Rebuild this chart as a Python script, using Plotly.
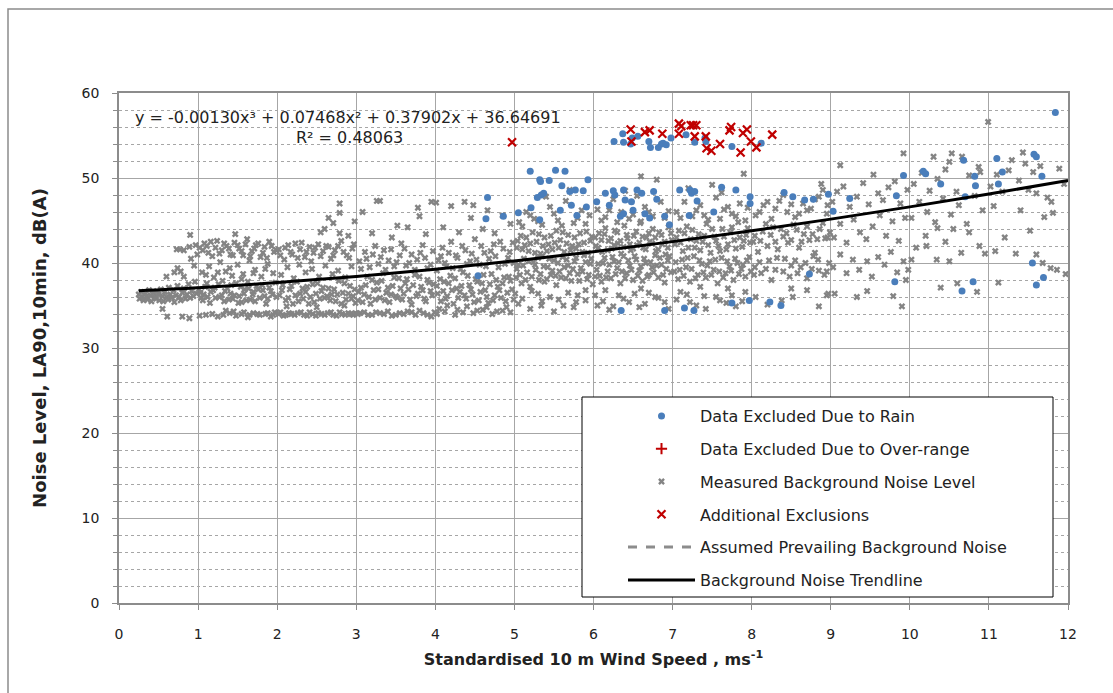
import plotly.graph_objects as go

# ---------------- data ----------------
gray_bin0 = [(0.25,36.3),(0.26,35.8),(0.28,36.6),(0.3,36.0),(0.31,35.6),(0.33,36.4),(0.35,36.1),(0.36,35.7),(0.38,36.8),(0.4,36.2),
             (0.41,35.5),(0.43,36.5),(0.45,36.0),(0.47,35.8),(0.48,36.7),(0.5,36.3),(0.51,35.6),(0.53,36.9),(0.55,36.1),(0.56,35.5),
             (0.58,36.6),(0.6,36.0),(0.62,35.7),(0.63,37.1),(0.65,36.3),(0.67,35.9),(0.69,36.8),(0.7,35.4),(0.72,36.2),(0.74,37.3),
             (0.76,36.0),(0.78,35.6),(0.8,36.5),(0.82,37.0),(0.84,35.8),(0.86,36.3),(0.88,37.5),(0.9,35.9),(0.92,36.7),(0.94,36.1),
             (0.96,37.8),(0.98,36.4),(0.55,34.6),(0.61,33.7),(0.8,33.7),(0.89,33.5),(0.6,38.4),(0.7,38.9),(0.74,39.4),(0.78,39.0),
             (0.82,38.4),(0.73,41.6),(0.77,41.6),(0.82,41.5),(0.89,41.9),(0.9,43.3),(0.91,40.5),(0.95,39.7),(0.97,42.1),(0.99,41.0)]
gray_bin1 = [(1.02,33.8),(1.1,33.9),(1.18,34.0),(1.25,33.7),(1.32,33.9),(1.4,34.1),(1.48,33.8),(1.55,34.0),(1.63,33.6),(1.7,34.1),
             (1.78,33.9),(1.85,34.0),(1.92,33.7),(1.97,34.2),(1.03,36.5),(1.06,35.6),(1.09,37.2),(1.12,36.0),(1.15,35.3),(1.19,36.8),
             (1.22,35.9),(1.26,37.5),(1.3,36.2),(1.33,35.5),(1.37,37.0),(1.41,36.4),(1.44,35.8),(1.48,37.6),(1.52,36.1),(1.55,35.4),
             (1.59,36.9),(1.63,37.8),(1.66,35.7),(1.7,36.6),(1.74,37.3),(1.78,35.9),(1.82,36.8),(1.86,35.2),(1.9,37.1),(1.94,36.3),
             (1.98,37.7),(1.05,38.9),(1.14,39.6),(1.2,38.3),(1.28,40.1),(1.35,39.0),(1.43,38.5),(1.5,39.8),(1.57,38.7),(1.65,40.3),
             (1.72,39.2),(1.8,38.4),(1.88,39.9),(1.95,38.8),(1.02,41.8),(1.08,42.3),(1.13,41.2),(1.18,40.8),(1.24,42.6),(1.3,41.5),
             (1.36,42.0),(1.41,41.0),(1.46,42.4),(1.52,41.7),(1.57,40.9),(1.62,42.8),(1.68,41.4),(1.73,42.1),(1.79,40.7),(1.84,41.9),
             (1.9,42.5),(1.96,41.3),(1.47,43.4),
             (1.01,36.9),(1.04,35.9),(1.07,36.3),(1.11,37.6),(1.16,36.6),(1.21,37.1),(1.27,36.0),(1.31,37.9),(1.34,36.7),(1.39,35.7),
             (1.42,37.4),(1.46,36.2),(1.51,35.3),(1.54,37.2),(1.58,36.4),(1.61,35.6),(1.64,37.0),(1.69,36.3),(1.72,35.5),(1.76,36.9),
             (1.81,37.4),(1.84,36.1),(1.88,35.8),(1.92,36.7),(1.99,36.0),(1.06,41.5),(1.11,42.0),(1.16,42.5),(1.22,41.8),(1.27,41.1),
             (1.33,42.3),(1.39,41.7),(1.44,40.9),(1.5,42.1),(1.55,41.4),(1.6,42.2),(1.66,40.8),(1.71,41.7),(1.76,42.3),(1.82,41.2),
             (1.87,40.6),(1.93,42.0),(1.99,41.5),(1.58,34.2),(1.65,33.9),(1.75,34.0),(1.88,34.1),(1.95,33.9),(1.45,34.3),(1.35,34.4),
             (1.1,38.6),(1.25,38.9),(1.4,39.4),(1.55,38.1),(1.7,38.8),(1.85,39.3)]
gray_bin2 = [(2.02,34.0),(2.08,33.8),(2.15,34.1),(2.22,33.9),(2.3,34.2),(2.38,33.8),(2.45,34.0),(2.52,34.1),(2.6,33.9),(2.68,34.2),
             (2.75,33.8),(2.82,34.0),(2.9,34.1),(2.96,33.9),(2.12,34.9),(2.5,34.8),(2.85,35.0),(2.03,36.2),(2.07,37.4),(2.11,35.6),
             (2.16,36.9),(2.2,35.2),(2.25,37.8),(2.29,36.4),(2.33,35.8),(2.38,37.2),(2.42,36.0),(2.47,35.4),(2.51,37.6),(2.56,36.7),
             (2.6,35.9),(2.65,37.0),(2.69,36.3),(2.74,35.5),(2.78,37.9),(2.83,36.5),(2.87,35.7),(2.92,37.3),(2.96,36.1),(2.99,35.3),
             (2.05,38.6),(2.13,39.5),(2.21,38.2),(2.28,39.8),(2.36,38.9),(2.44,39.3),(2.53,38.4),(2.61,39.7),(2.7,38.7),(2.77,39.1),
             (2.86,38.3),(2.94,39.6),(2.02,41.6),(2.09,40.4),(2.14,42.1),(2.19,41.0),(2.26,40.6),(2.31,42.4),(2.37,41.3),(2.43,40.2),
             (2.48,41.8),(2.55,40.8),(2.62,42.0),(2.68,40.5),(2.73,41.5),(2.81,42.6),(2.88,40.9),(2.95,41.7),(2.65,45.3),(2.71,44.7),
             (2.79,45.9),(2.79,47.0),(2.79,43.5),(2.98,44.9),(2.6,44.0),(2.9,43.2),(2.55,43.6),
             (2.04,34.2),(2.11,33.9),(2.18,34.0),(2.26,34.1),(2.34,33.9),(2.41,34.2),(2.49,33.8),(2.56,34.0),(2.64,34.1),(2.71,33.9),
             (2.79,34.2),(2.86,33.9),(2.93,34.0),(2.99,34.1),(2.06,36.8),(2.14,35.9),(2.18,37.3),(2.23,36.2),(2.27,35.5),(2.32,37.0),
             (2.36,36.6),(2.4,35.2),(2.45,37.5),(2.49,36.4),(2.54,35.8),(2.58,37.1),(2.63,36.1),(2.67,35.6),(2.72,36.9),(2.76,36.3),
             (2.81,35.2),(2.85,37.6),(2.9,36.4),(2.94,35.8),(2.98,36.9),(2.04,40.9),(2.1,41.8),(2.17,41.3),(2.23,42.3),(2.29,41.6),
             (2.35,40.7),(2.41,41.9),(2.46,41.2),(2.52,42.2),(2.58,41.4),(2.65,41.9),(2.71,40.9),(2.77,42.0),(2.84,41.3),(2.91,40.6),
             (2.97,42.2)]
gray_bin3 = [(3.05,34.1),(3.15,33.9),(3.25,34.2),(3.35,34.0),(3.45,33.8),(3.55,34.1),(3.65,34.3),(3.75,33.9),(3.85,34.1),(3.95,33.7),
             (3.02,35.6),(3.06,37.1),(3.1,36.3),(3.14,38.4),(3.18,35.2),(3.22,36.8),(3.26,37.7),(3.3,35.9),(3.34,38.8),(3.38,36.5),
             (3.42,35.4),(3.46,37.3),(3.5,36.1),(3.54,38.2),(3.58,35.7),(3.62,37.6),(3.66,36.9),(3.7,35.1),(3.74,38.6),(3.78,36.4),
             (3.82,37.2),(3.86,35.8),(3.9,38.0),(3.94,36.7),(3.98,37.5),(3.04,40.2),(3.11,41.3),(3.17,39.5),(3.24,42.0),(3.31,40.7),
             (3.37,39.2),(3.44,41.6),(3.51,40.1),(3.57,42.3),(3.63,39.7),(3.7,41.0),(3.77,40.4),(3.84,42.1),(3.9,39.4),(3.97,41.4),
             (3.08,46.0),(3.26,47.3),(3.3,47.3),(3.52,44.4),(3.78,46.5),(3.8,45.5),(3.95,47.2),(3.2,43.5),(3.45,43.0),(3.65,44.2),
             (3.88,43.4),
             (3.02,34.0),(3.1,34.2),(3.2,33.9),(3.3,34.1),(3.4,34.3),(3.5,33.9),(3.6,34.0),(3.7,34.2),(3.8,34.4),(3.9,33.9),(3.99,34.2),
             (3.03,36.6),(3.08,35.4),(3.12,37.4),(3.16,36.0),(3.2,38.0),(3.24,35.7),(3.28,36.9),(3.32,37.9),(3.36,35.6),(3.4,37.1),
             (3.44,36.3),(3.48,38.3),(3.52,35.9),(3.56,37.0),(3.6,36.4),(3.64,38.1),(3.68,35.7),(3.72,37.4),(3.76,36.1),(3.8,38.4),
             (3.84,36.8),(3.88,35.5),(3.92,37.7),(3.96,36.2),(3.06,39.3),(3.13,40.5),(3.21,41.0),(3.28,39.9),(3.35,41.5),(3.41,40.3),
             (3.48,39.6),(3.55,40.9),(3.61,41.7),(3.67,40.0),(3.74,39.2),(3.81,41.2),(3.87,40.6),(3.94,39.8)]
gray_bin4 = [(4.02,34.0),(4.12,34.3),(4.25,33.9),(4.35,34.2),(4.48,34.1),(4.6,34.5),(4.72,34.0),(4.85,34.4),(4.95,34.2),
             (4.03,36.4),(4.07,35.5),(4.11,37.8),(4.15,36.1),(4.19,38.5),(4.23,35.2),(4.27,37.0),(4.31,36.6),(4.35,38.9),(4.39,35.8),
             (4.43,37.4),(4.47,36.3),(4.51,38.1),(4.55,35.6),(4.59,37.6),(4.63,36.8),(4.67,35.3),(4.71,38.7),(4.75,36.2),(4.79,37.2),
             (4.83,35.9),(4.87,38.3),(4.91,36.5),(4.95,37.9),(4.99,35.7),(4.04,40.3),(4.09,41.8),(4.14,39.6),(4.2,42.5),(4.26,40.9),
             (4.32,39.3),(4.38,41.5),(4.44,40.2),(4.5,42.8),(4.56,39.8),(4.62,41.2),(4.68,40.5),(4.74,42.2),(4.8,39.5),(4.86,41.7),
             (4.92,40.6),(4.98,42.4),(4.01,47.1),(4.2,46.7),(4.37,47.2),(4.48,46.8),(4.1,44.2),(4.3,43.6),(4.45,45.3),(4.6,44.0),
             (4.75,43.5),(4.85,45.6),(4.95,44.6),(4.66,46.2),
             (4.05,34.6),(4.15,35.0),(4.28,34.5),(4.4,34.9),(4.53,34.4),(4.65,34.8),(4.78,34.3),(4.9,34.8),
             (4.02,37.3),(4.06,38.1),(4.1,36.7),(4.13,35.8),(4.17,37.6),(4.21,36.8),(4.25,38.2),(4.29,35.9),(4.33,37.3),(4.37,36.2),
             (4.41,38.5),(4.45,36.9),(4.49,35.4),(4.53,37.8),(4.57,36.6),(4.61,38.6),(4.65,36.0),(4.69,37.5),(4.73,35.6),(4.77,38.0),
             (4.81,36.8),(4.85,37.6),(4.89,35.5),(4.93,38.4),(4.97,36.9),(4.02,39.1),(4.07,40.8),(4.12,40.0),(4.17,41.2),(4.22,39.4),
             (4.28,40.6),(4.34,42.0),(4.4,39.9),(4.46,41.1),(4.52,40.4),(4.58,42.0),(4.64,39.6),(4.7,41.4),(4.76,40.8),(4.82,42.5),
             (4.88,39.9),(4.94,41.3),(4.99,40.0)]
gray_bin5 = [(5.05,35.2),(5.2,34.6),(5.35,35.5),(5.5,34.3),(5.62,35.0),(5.75,34.8),(5.9,35.6),(5.3,36.4),(5.8,36.2),
             (5.02,38.3),(5.05,39.8),(5.09,37.6),(5.12,40.5),(5.16,38.9),(5.2,37.2),(5.24,40.1),(5.27,39.2),(5.31,38.0),(5.35,40.8),
             (5.38,37.8),(5.42,39.5),(5.46,38.6),(5.5,40.3),(5.53,37.4),(5.57,39.0),(5.61,40.7),(5.65,38.2),(5.68,39.7),(5.72,37.9),
             (5.76,40.2),(5.8,38.7),(5.84,39.4),(5.88,40.9),(5.92,38.1),(5.96,39.9),(5.99,37.5),(5.03,41.8),(5.08,43.2),(5.13,42.1),
             (5.18,41.4),(5.23,43.6),(5.28,42.5),(5.33,41.1),(5.38,43.0),(5.43,42.2),(5.48,41.6),(5.53,43.8),(5.58,42.7),(5.63,41.3),
             (5.68,43.3),(5.73,42.0),(5.78,41.7),(5.83,43.5),(5.88,42.4),(5.93,41.2),(5.98,43.1),(5.06,44.8),(5.15,46.0),(5.25,45.2),
             (5.35,44.5),(5.45,46.6),(5.55,45.0),(5.65,47.3),(5.75,44.7),(5.85,46.2),(5.95,45.6),(5.4,47.8),(5.7,48.6),
             (5.01,36.4),(5.1,35.8),(5.22,36.7),(5.34,35.0),(5.45,36.0),(5.56,35.7),(5.68,36.5),(5.78,35.4),(5.9,36.8),
             (5.03,39.3),(5.07,38.6),(5.11,39.7),(5.14,38.0),(5.18,40.2),(5.22,38.4),(5.26,39.8),(5.3,40.6),(5.33,38.7),(5.37,39.6),
             (5.41,38.1),(5.44,40.5),(5.48,39.1),(5.52,38.5),(5.55,40.0),(5.59,38.3),(5.63,39.5),(5.66,40.4),(5.7,38.8),(5.74,39.3),
             (5.78,40.6),(5.82,37.9),(5.86,39.0),(5.9,40.1),(5.94,38.6),(5.97,40.5),(5.04,42.6),(5.1,41.6),(5.15,43.0),(5.2,42.3),
             (5.26,41.2),(5.31,43.4),(5.36,42.0),(5.41,41.4),(5.46,43.2),(5.51,42.4),(5.56,41.8),(5.61,43.6),(5.66,42.3),(5.71,41.5),
             (5.76,43.0),(5.81,42.2),(5.86,41.3),(5.91,43.7),(5.96,42.6),(5.1,44.3),(5.2,45.6),(5.3,44.9),(5.5,45.8),(5.6,44.4),
             (5.8,45.3),(5.9,44.6)]
gray_bin6 = [(6.05,35.0),(6.2,34.5),(6.32,36.2),(6.45,35.4),(6.58,34.8),(6.7,36.5),(6.82,35.9),(6.95,34.6),(6.15,36.8),(6.6,37.0),
             (6.02,38.4),(6.06,39.9),(6.1,37.8),(6.14,40.6),(6.18,39.0),(6.22,38.2),(6.26,40.2),(6.3,39.4),(6.34,37.6),(6.38,40.8),
             (6.42,38.8),(6.46,39.7),(6.5,38.0),(6.54,40.4),(6.58,39.1),(6.62,37.9),(6.66,40.0),(6.7,38.6),(6.74,39.5),(6.78,40.9),
             (6.82,38.3),(6.86,39.8),(6.9,37.7),(6.94,40.3),(6.98,38.9),(6.03,42.0),(6.07,43.5),(6.11,41.3),(6.15,44.1),(6.19,42.6),
             (6.23,41.7),(6.27,43.8),(6.31,42.3),(6.35,41.1),(6.39,44.4),(6.43,42.9),(6.47,41.5),(6.51,43.2),(6.55,42.1),(6.59,44.7),
             (6.63,41.8),(6.67,43.0),(6.71,42.5),(6.75,44.0),(6.79,41.4),(6.83,43.6),(6.87,42.2),(6.91,41.0),(6.95,44.2),(6.99,42.7),
             (6.05,46.3),(6.15,45.4),(6.25,47.5),(6.35,46.0),(6.45,45.2),(6.55,47.9),(6.65,46.6),(6.75,45.5),(6.85,47.2),(6.95,46.1),
             (6.4,48.5),(6.8,49.8),(6.6,50.2),
             (6.02,36.2),(6.12,35.5),(6.25,34.9),(6.38,35.8),(6.52,36.4),(6.65,35.2),(6.78,36.0),(6.9,35.4),
             (6.04,39.2),(6.08,38.5),(6.12,40.0),(6.16,38.3),(6.2,39.8),(6.24,40.7),(6.28,38.7),(6.32,40.1),(6.36,39.0),(6.4,38.2),
             (6.44,40.3),(6.48,39.2),(6.52,40.8),(6.56,38.5),(6.6,39.6),(6.64,40.5),(6.68,38.4),(6.72,40.1),(6.76,38.9),(6.8,39.7),
             (6.84,40.6),(6.88,38.6),(6.92,39.3),(6.96,40.8),(6.02,43.0),(6.06,41.8),(6.1,42.7),(6.14,43.4),(6.18,41.5),(6.22,42.9),
             (6.26,42.1),(6.3,43.6),(6.34,42.6),(6.38,41.9),(6.42,43.3),(6.46,42.2),(6.5,41.7),(6.54,43.7),(6.58,42.4),(6.62,43.1),
             (6.66,41.6),(6.7,43.5),(6.74,42.3),(6.78,43.0),(6.82,41.6),(6.86,43.3),(6.9,42.5),(6.94,41.8),(6.98,43.5),
             (6.1,45.0),(6.2,46.2),(6.3,44.8),(6.5,45.7),(6.6,44.9),(6.7,46.0),(6.9,45.3)]
gray_bin7 = [(7.05,35.7),(7.18,36.3),(7.3,35.0),(7.42,34.6),(7.55,36.0),(7.68,35.3),(7.8,34.9),(7.92,36.6),(7.35,37.2),(7.7,37.0),
             (7.02,39.0),(7.07,38.1),(7.12,40.4),(7.17,39.5),(7.22,37.8),(7.27,40.8),(7.32,38.6),(7.37,39.9),(7.42,38.3),(7.47,40.2),
             (7.52,39.2),(7.57,37.6),(7.62,40.6),(7.67,38.8),(7.72,39.6),(7.77,38.0),(7.82,40.0),(7.87,39.3),(7.92,38.4),(7.97,40.7),
             (7.03,42.2),(7.08,43.8),(7.13,41.4),(7.18,44.3),(7.23,42.8),(7.28,41.8),(7.33,43.4),(7.38,42.5),(7.43,44.6),(7.48,41.2),
             (7.53,43.1),(7.58,42.0),(7.63,44.0),(7.68,41.6),(7.73,43.6),(7.78,42.7),(7.83,44.8),(7.88,41.9),(7.93,43.3),(7.98,42.4),
             (7.05,46.0),(7.15,47.2),(7.25,45.5),(7.35,46.8),(7.45,45.1),(7.55,47.7),(7.65,46.3),(7.75,45.8),(7.85,47.0),(7.95,46.5),
             (7.2,48.8),(7.5,49.2),(7.9,50.5),(7.62,48.3),
             (7.1,36.6),(7.22,35.4),(7.4,36.1),(7.6,35.6),(7.75,36.2),(7.88,35.5),
             (7.04,40.1),(7.09,39.2),(7.14,38.5),(7.19,40.6),(7.24,39.3),(7.29,38.2),(7.34,40.3),(7.39,38.9),(7.44,39.7),(7.49,38.6),
             (7.54,40.4),(7.59,39.0),(7.64,38.3),(7.69,40.2),(7.74,39.1),(7.79,40.5),(7.84,38.7),(7.89,39.8),(7.94,40.3),(7.99,39.0),
             (7.05,43.0),(7.1,42.4),(7.15,43.5),(7.2,41.8),(7.25,43.9),(7.3,42.6),(7.35,41.5),(7.4,43.2),(7.45,42.1),(7.5,44.0),
             (7.55,42.6),(7.6,41.4),(7.65,43.1),(7.7,42.2),(7.75,44.2),(7.8,41.7),(7.85,43.0),(7.9,42.6),(7.95,44.1),
             (7.1,45.3),(7.3,46.2),(7.4,45.6),(7.6,45.2),(7.7,46.6),(7.8,45.5),(7.92,45.0)]
gray_bin8 = [(8.05,36.0),(8.2,35.1),(8.38,35.6),(8.5,37.0),(8.7,36.8),(8.85,34.9),(8.95,36.2),(8.52,36.0),(8.97,36.4),
             (8.03,38.6),(8.1,40.1),(8.18,39.3),(8.25,38.0),(8.32,40.6),(8.4,39.0),(8.48,38.4),(8.55,40.3),(8.62,39.5),(8.7,38.2),
             (8.78,40.8),(8.85,39.1),(8.92,38.6),(8.98,40.0),(8.02,42.5),(8.08,41.3),(8.14,43.7),(8.2,42.0),(8.27,44.2),(8.33,41.6),
             (8.4,43.1),(8.46,42.4),(8.53,44.5),(8.6,41.8),(8.66,43.4),(8.73,42.7),(8.8,41.2),(8.86,44.0),(8.93,42.9),(8.99,43.6),
             (8.05,45.6),(8.15,46.8),(8.25,45.2),(8.35,47.3),(8.45,46.0),(8.55,45.4),(8.65,47.0),(8.75,46.4),(8.85,47.8),(8.95,45.8),
             (8.4,48.0),(8.9,48.6),(8.88,49.3),
             (8.04,39.5),(8.12,38.8),(8.22,40.3),(8.3,39.2),(8.42,40.5),(8.5,39.7),(8.58,38.8),(8.68,40.0),(8.76,39.3),(8.84,40.4),
             (8.95,39.0),(8.04,43.2),(8.11,42.6),(8.18,44.6),(8.24,43.3),(8.3,42.5),(8.37,44.0),(8.44,43.5),(8.5,42.7),(8.57,43.9),
             (8.63,42.5),(8.7,44.3),(8.77,43.4),(8.83,42.8),(8.9,44.7),(8.96,43.0),(8.1,46.0),(8.2,47.2),(8.3,46.4),(8.5,46.9),
             (8.6,45.8),(8.7,46.2),(8.8,47.5),(8.96,46.8)]
gray_bin9 = [(9.05,36.4),(9.33,36.0),(9.46,36.7),(9.79,36.1),(9.95,38.0),(9.9,34.9),(9.98,39.2),
             (9.03,39.5),(9.12,41.0),(9.2,38.8),(9.28,40.4),(9.36,39.2),(9.46,40.2),(9.52,38.4),(9.6,40.7),(9.68,39.8),(9.76,41.3),
             (9.84,38.9),(9.92,40.2),(9.04,43.0),(9.12,44.6),(9.2,42.4),(9.29,45.1),(9.37,43.6),(9.45,42.8),(9.53,44.3),(9.62,45.6),
             (9.7,43.2),(9.78,44.9),(9.86,42.6),(9.94,45.3),(9.02,47.2),(9.08,48.4),(9.16,49.0),(9.24,46.6),(9.33,47.8),(9.41,49.4),
             (9.48,46.9),(9.54,50.4),(9.6,48.2),(9.66,47.4),(9.73,48.9),(9.81,49.6),(9.88,47.0),(9.92,52.9),(9.12,51.5),(9.97,48.6)]
gray_bin10 = [(10.02,40.4),(10.21,42.0),(10.34,40.4),(10.39,37.1),(10.6,37.6),(10.85,36.6),(10.95,41.1),(10.5,40.2),
              (10.08,41.8),(10.2,43.2),(10.45,42.5),(10.55,44.0),(10.65,41.2),(10.75,43.6),(10.88,42.0),(10.35,44.1),
              (10.02,45.3),(10.12,47.2),(10.22,46.0),(10.32,44.8),(10.42,47.6),(10.52,45.7),(10.62,46.8),(10.72,44.6),(10.82,47.9),
              (10.92,46.2),(10.05,49.3),(10.15,50.6),(10.25,48.5),(10.35,49.9),(10.45,51.0),(10.59,48.4),(10.5,51.9),(10.53,52.9),
              (10.66,52.5),(10.75,50.3),(10.87,51.3),(10.89,50.7),(10.3,52.5),(10.99,56.6)]
gray_bin11 = [(11.02,49.0),(11.06,46.7),(11.1,50.4),(11.12,37.7),(11.17,48.4),(11.2,43.0),(11.25,50.9),(11.29,52.1),(11.34,41.1),
              (11.38,49.7),(11.43,53.0),(11.46,51.7),(11.5,48.6),(11.56,50.7),(11.6,41.0),(11.6,48.2),(11.65,51.4),(11.68,40.0),
              (11.7,45.4),(11.74,47.7),(11.78,39.4),(11.79,47.2),(11.81,45.9),(11.86,39.2),(11.89,51.1),(11.95,49.3),(11.97,38.7),
              (11.4,46.2),(11.52,43.8),(11.08,41.4)]

rain_pts = [(6.26,54.3),(6.37,55.2),(6.38,54.2),(6.47,54.0),(6.49,54.7),(6.56,54.9),(6.70,54.3),(6.72,53.6),(6.82,53.6),(6.86,54.0),
            (6.88,54.1),(6.92,53.9),(6.98,54.7),(7.17,55.1),(7.28,54.2),(7.41,54.7),(7.42,54.3),(7.75,53.7),(8.12,54.1),
            (5.20,50.8),(5.32,49.8),(5.33,49.6),(5.44,49.7),(5.52,50.9),(5.64,50.8),(5.60,49.1),(5.29,47.7),(5.34,48.0),(5.37,48.2),
            (5.70,48.4),(5.77,48.6),(5.87,48.5),(5.93,49.8),(4.66,47.7),(4.64,45.2),(4.86,45.5),(5.05,45.9),(5.21,46.5),(5.32,45.1),
            (5.58,46.2),(5.72,46.8),(5.79,45.6),(5.91,46.6),(6.04,47.2),(6.15,48.2),(6.20,46.8),(6.25,48.5),(6.27,48.0),(6.38,48.6),
            (6.40,47.4),(6.48,47.2),(6.50,46.2),(6.55,48.6),(6.61,48.2),(6.34,45.5),(6.38,45.8),(6.65,45.8),(6.71,45.3),(6.76,48.4),
            (6.80,47.5),(6.90,45.5),(6.96,44.5),(7.09,48.6),(7.22,48.6),(7.24,48.2),(7.28,48.4),(7.31,47.3),(7.21,45.6),(7.62,48.9),
            (7.52,46.0),(7.80,48.6),(7.98,47.8),(7.98,47.0),(8.41,48.3),(8.52,47.8),(8.67,47.4),(8.78,47.5),(8.97,48.1),(9.03,46.1),
            (9.24,47.6),(9.83,47.9),(9.92,50.3),(10.17,50.8),(10.20,50.5),(10.39,49.3),(10.68,52.1),(10.82,50.2),(10.83,49.1),
            (10.70,47.8),(11.10,52.3),(11.12,49.3),(11.17,50.7),(11.57,52.8),(11.60,52.5),(11.67,50.2),(11.84,57.7),
            (4.54,38.5),(6.35,34.4),(6.90,34.4),(7.15,34.7),(7.27,34.4),(7.75,35.3),(7.97,35.6),(8.23,35.4),(8.37,35.0),
            (8.73,38.7),(9.81,37.8),(10.66,36.7),(10.80,37.8),(11.55,40.0),(11.60,37.4),(11.69,38.3)]

extra_pts = [(4.97,54.2),(6.47,55.7),(6.48,54.3),(6.65,55.4),(6.71,55.6),(6.87,55.2),(7.08,56.4),(7.11,56.1),(7.08,55.2),
             (7.23,56.2),(7.26,56.2),(7.30,56.2),(7.28,54.9),(7.42,54.9),(7.43,53.5),(7.49,53.2),(7.60,54.0),(7.72,55.6),
             (7.74,56.0),(7.86,53.0),(7.89,55.3),(7.94,55.7),(7.99,54.3),(8.06,53.6),(8.26,55.1)]

trend_x = [0.25, 1, 2, 3, 4, 5, 6, 7, 8, 9, 10, 11, 12]
trend_y = [36.746, 37.099, 37.693, 38.421, 39.275, 40.247, 41.329, 42.514, 43.793, 45.160, 46.605, 48.122, 49.703]

x_ticks = list(range(0, 13))
y_ticks = [0, 10, 20, 30, 40, 50, 60]

equation_text = "y = -0.00130x³ + 0.07468x² + 0.37902x + 36.64691"
r2_text = "R² = 0.48063"

gray_all = (gray_bin0 + gray_bin1 + gray_bin2 + gray_bin3 + gray_bin4 + gray_bin5 +
            gray_bin6 + gray_bin7 + gray_bin8 + gray_bin9 + gray_bin10 + gray_bin11)
gray_x = [p[0] for p in gray_all]
gray_y = [p[1] for p in gray_all]
rain_x = [p[0] for p in rain_pts]
rain_y = [p[1] for p in rain_pts]
extra_x = [p[0] for p in extra_pts]
extra_y = [p[1] for p in extra_pts]

FONT = "DejaVu Sans"
GRID = "#A6A6A6"
TXT = "#222222"

fig = go.Figure()
fig.add_trace(go.Scatter(x=gray_x, y=gray_y, mode="markers", name="Measured Background Noise Level",
                         legendrank=3, legendgroup="g3",
                         marker=dict(symbol="x", size=6, color="#848484", line=dict(width=0))))
fig.add_trace(go.Scatter(x=rain_x, y=rain_y, mode="markers", name="Data Excluded Due to Rain",
                         legendrank=1, legendgroup="g1",
                         marker=dict(symbol="circle", size=7, color="#4A7EBB", line=dict(width=0))))
fig.add_trace(go.Scatter(x=[None], y=[None], mode="markers", name="Data Excluded Due to Over-range",
                         legendrank=2, legendgroup="g2",
                         marker=dict(symbol="cross-thin-open", size=8, color="#C00000", line=dict(width=2, color="#C00000"))))
fig.add_trace(go.Scatter(x=extra_x, y=extra_y, mode="markers", name="Additional Exclusions",
                         legendrank=4, legendgroup="g4",
                         marker=dict(symbol="x-thin-open", size=8, color="#C00000", line=dict(width=2.2, color="#C00000"))))
fig.add_trace(go.Scatter(x=[None], y=[None], mode="lines", name="Assumed Prevailing Background Noise",
                         legendrank=5, legendgroup="g5",
                         line=dict(color="#8C8C8C", width=3, dash="dash")))
fig.add_trace(go.Scatter(x=trend_x, y=trend_y, mode="lines", name="Background Noise Trendline",
                         legendrank=6, legendgroup="g6",
                         line=dict(color="black", width=3, shape="spline")))

W, H = 1113, 693
L, R, T, B = 119, 45, 93, 90
pw, ph = W - L - R, H - T - B
def px_x(px):
    return (px - L) / pw
def px_y(py):
    return (H - B - py) / ph

fig.update_layout(
    width=W, height=H,
    margin=dict(l=L, r=R, t=T, b=B),
    paper_bgcolor="white", plot_bgcolor="white",
    font=dict(family=FONT, size=14, color=TXT),
    showlegend=True,
    legend=dict(x=px_x(623), y=px_y(399), xanchor="left", yanchor="top",
                bgcolor="rgba(0,0,0,0)", borderwidth=0, itemwidth=67,
                traceorder="grouped", tracegroupgap=9,
                font=dict(family=FONT, size=16, color=TXT)),
    xaxis=dict(range=[0, 12], tickvals=x_ticks, ticktext=[str(v) for v in x_ticks],
               showgrid=True, gridcolor=GRID, gridwidth=1,
               showline=True, linecolor="#8C8C8C", linewidth=1.5, mirror=True,
               ticks="outside", ticklen=5, tickcolor="#8C8C8C", ticklabelstandoff=12,
               zeroline=False,
               title=dict(text="<b>Standardised 10 m Wind Speed , ms<sup>-1</sup></b>",
                          font=dict(family=FONT, size=16, color=TXT), standoff=13)),
    yaxis=dict(range=[0, 60], tickvals=y_ticks, ticktext=[str(v) for v in y_ticks],
               showgrid=True, gridcolor=GRID, gridwidth=1,
               showline=True, linecolor="#8C8C8C", linewidth=1.5, mirror=True,
               ticks="outside", ticklen=5, tickcolor="#8C8C8C", ticklabelstandoff=10,
               zeroline=False,
               minor=dict(dtick=2, showgrid=True, gridcolor=GRID, griddash="dot", gridwidth=1,
                          ticks="outside", ticklen=4, tickcolor="#8C8C8C"),
               title=dict(text="<b>Noise Level, LA90,10min, dB(A)</b>",
                          font=dict(family=FONT, size=18, color=TXT), standoff=30)),
)

# legend box (opaque white with black border) and outer chart border
fig.add_shape(type="rect", xref="paper", yref="paper",
              x0=px_x(582), x1=px_x(1053), y0=px_y(597), y1=px_y(397),
              fillcolor="white", line=dict(color="black", width=1), layer="above")
fig.add_shape(type="rect", xref="paper", yref="paper",
              x0=px_x(8), x1=px_x(1130), y0=px_y(710), y1=px_y(9),
              fillcolor="rgba(0,0,0,0)", line=dict(color="#8C8C8C", width=1.5), layer="below")

fig.add_annotation(text=equation_text, xref="paper", yref="paper",
                   x=px_x(348), y=px_y(117), xanchor="center", yanchor="middle", showarrow=False,
                   font=dict(family=FONT, size=16, color=TXT))
fig.add_annotation(text=r2_text, xref="paper", yref="paper",
                   x=px_x(349), y=px_y(137), xanchor="center", yanchor="middle", showarrow=False,
                   font=dict(family=FONT, size=16, color=TXT))

fig.write_html("out.html")
